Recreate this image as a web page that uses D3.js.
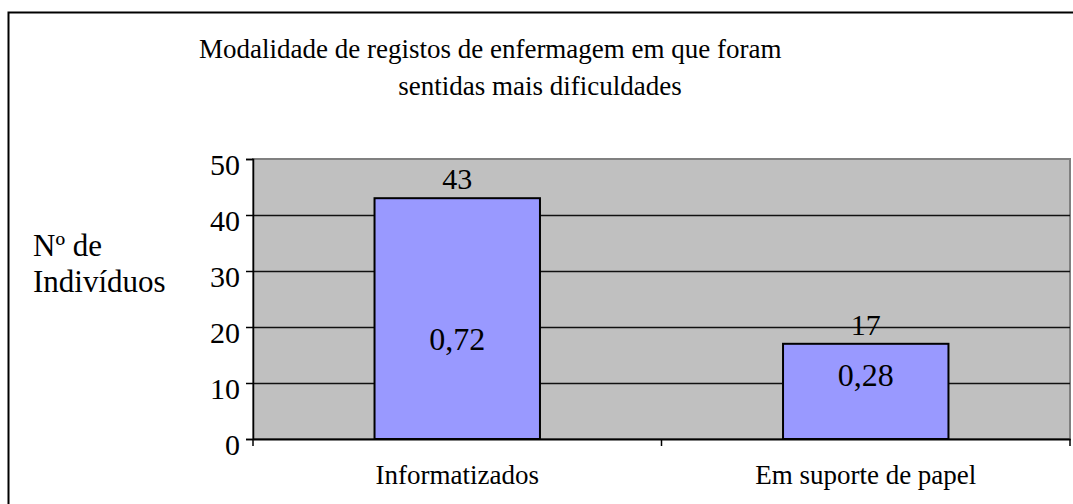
<!DOCTYPE html>
<html>
<head>
<meta charset="utf-8">
<script src="https://cdn.jsdelivr.net/npm/d3@7"></script>
</head>
<body style="margin:0">
<div id="chart"></div>
<script>
// chart data
const categories = ['Informatizados', 'Em suporte de papel'];
const counts = [43, 17];
const ratios = ['0,72', '0,28'];
const ratioAt = [17.9, 11.4]; // where the ratio label sits, in axis units
const yTicks = [0, 10, 20, 30, 40, 50];
const titleLines = ['Modalidade de registos de enfermagem em que foram', 'sentidas mais dificuldades'];

const W = 1073, H = 504;
const FONT = "'Liberation Serif'";
const plot = { left: 253, top: 159, right: 1070, bottom: 439 };

const svg = d3.select('#chart').append('svg')
  .attr('width', W)
  .attr('height', H);

function label(sel, size) {
  return sel.style('font-family', FONT).style('font-size', size + 'px').attr('fill', '#000');
}

// outer frame
svg.append('rect')
  .attr('x', 8.5).attr('y', 12.5)
  .attr('width', W).attr('height', H)
  .attr('fill', 'none')
  .attr('stroke', '#000')
  .attr('stroke-width', 2);

// title
svg.append('text').attr('x', 199).attr('y', 58)
  .call(label, 27).text(titleLines[0]);
svg.append('text').attr('x', 540).attr('y', 95).attr('text-anchor', 'middle')
  .call(label, 27).text(titleLines[1]);

// scales
const x = d3.scaleBand().domain(categories).range([plot.left, plot.right]).padding(0);
const y = d3.scaleLinear().domain([0, 50]).range([plot.bottom, plot.top]);
const barW = x.bandwidth() * 0.405;

// plot background
svg.append('rect')
  .attr('x', plot.left).attr('y', plot.top)
  .attr('width', plot.right - plot.left).attr('height', plot.bottom - plot.top)
  .attr('fill', '#c0c0c0')
  .attr('stroke', '#808080')
  .attr('stroke-width', 2);

// gridlines
svg.append('g').selectAll('line')
  .data(yTicks.filter(d => d > 0 && d < 50))
  .join('line')
  .attr('x1', plot.left).attr('x2', plot.right)
  .attr('y1', d => Math.round(y(d)) + 0.5).attr('y2', d => Math.round(y(d)) + 0.5)
  .attr('stroke', '#111')
  .attr('stroke-width', 1.5);

// bars
svg.append('g').selectAll('rect')
  .data(counts)
  .join('rect')
  .attr('x', (d, i) => x(categories[i]) + (x.bandwidth() - barW) / 2)
  .attr('y', d => y(d))
  .attr('width', barW)
  .attr('height', d => y(0) - y(d))
  .attr('fill', '#9999ff')
  .attr('stroke', '#000')
  .attr('stroke-width', 2);

// y axis
const yAxis = d3.axisLeft(y).tickValues(yTicks).tickSize(7).tickPadding(6);
const gy = svg.append('g')
  .attr('transform', 'translate(' + plot.left + ',0)')
  .call(yAxis);
gy.select('.domain').attr('stroke', '#000').attr('stroke-width', 1.5);
gy.selectAll('.tick line').attr('stroke', '#000').attr('stroke-width', 1.5);
gy.selectAll('.tick text').call(label, 30).attr('y', 5).attr('dy', '0.35em');

// x axis
const xAxis = d3.axisBottom(x).tickSize(0).tickPadding(26);
const gx = svg.append('g')
  .attr('transform', 'translate(0,' + plot.bottom + ')')
  .call(xAxis);
gx.select('.domain').attr('stroke', '#000').attr('stroke-width', 2);
gx.selectAll('.tick text').call(label, 27).attr('dy', '0.71em');

// category boundary ticks
svg.append('g').selectAll('line')
  .data(categories.concat(['end']))
  .join('line')
  .attr('x1', (d, i) => i < categories.length ? x(d) : plot.right)
  .attr('x2', (d, i) => i < categories.length ? x(d) : plot.right)
  .attr('y1', plot.bottom)
  .attr('y2', plot.bottom + 7)
  .attr('stroke', '#000')
  .attr('stroke-width', 1.5);

// count labels above the bars
svg.append('g').selectAll('text')
  .data(counts)
  .join('text')
  .attr('x', (d, i) => x(categories[i]) + x.bandwidth() / 2)
  .attr('y', d => y(d) - 9)
  .attr('text-anchor', 'middle')
  .call(label, 30)
  .text(d => d);

// ratio labels inside the bars
svg.append('g').selectAll('text')
  .data(ratios)
  .join('text')
  .attr('x', (d, i) => x(categories[i]) + x.bandwidth() / 2)
  .attr('y', (d, i) => y(ratioAt[i]))
  .attr('dy', '0.35em')
  .attr('text-anchor', 'middle')
  .call(label, 32)
  .text(d => d);

// y axis title
const yTitle = svg.append('text').call(label, 31);
yTitle.append('tspan').attr('x', 33).attr('y', 256).text('Nº de');
yTitle.append('tspan').attr('x', 33).attr('y', 292).text('Indivíduos');
</script>
</body>
</html>
